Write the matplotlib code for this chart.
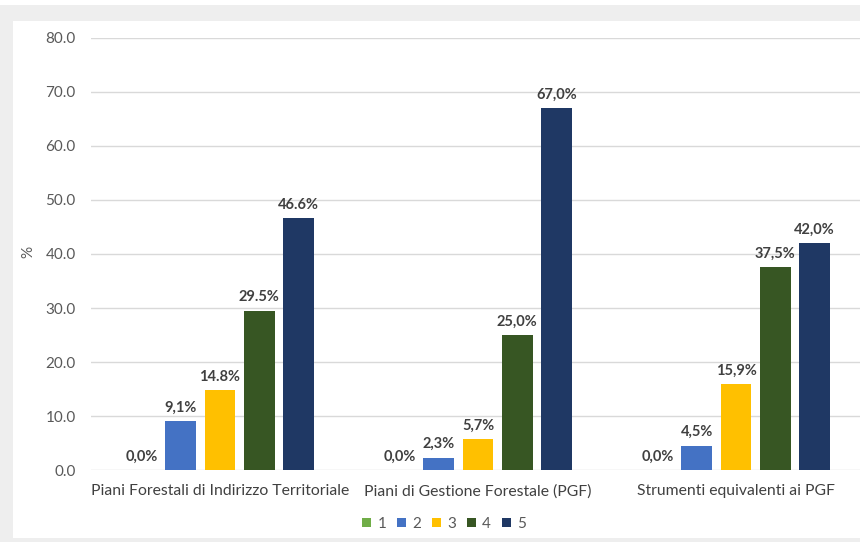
import matplotlib
matplotlib.use("Agg")
import matplotlib.pyplot as plt
from matplotlib.patches import Rectangle
import numpy as np

categories = ["Piani Forestali di Indirizzo Territoriale",
              "Piani di Gestione Forestale (PGF)",
              "Strumenti equivalenti ai PGF"]
series_names = ["1", "2", "3", "4", "5"]
values = {
    "1": [0.0, 0.0, 0.0],
    "2": [9.1, 2.3, 4.5],
    "3": [14.8, 5.7, 15.9],
    "4": [29.5, 25.0, 37.5],
    "5": [46.6, 67.0, 42.0],
}
value_labels = {
    "1": ["0,0%", "0,0%", "0,0%"],
    "2": ["9,1%", "2,3%", "4,5%"],
    "3": ["14.8%", "5,7%", "15,9%"],
    "4": ["29.5%", "25,0%", "37,5%"],
    "5": ["46.6%", "67,0%", "42,0%"],
}
y_ticks = [0, 10, 20, 30, 40, 50, 60, 70, 80]
colors = ["#70ad47", "#4472c4", "#ffc000", "#375623", "#1f3864"]

plt.rcParams["font.family"] = ["Lato", "DejaVu Sans"]
text_color = "#595959"

W, H = 860, 542
fig = plt.figure(figsize=(W / 100, H / 100), dpi=100, facecolor="white")

# grey frame around the chart area
gray = "#eeeeee"
fig.add_artist(Rectangle((0, 1 - 21 / H), 1, 16 / H, transform=fig.transFigure,
                         facecolor=gray, edgecolor="none", zorder=0))
fig.add_artist(Rectangle((0, 0), 13 / W, 1 - 5 / H, transform=fig.transFigure,
                         facecolor=gray, edgecolor="none", zorder=0))
fig.add_artist(Rectangle((0, 0), 1, 4 / H, transform=fig.transFigure,
                         facecolor=gray, edgecolor="none", zorder=0))

left, right = 91 / W, 1.0
bottom, top = 1 - 470 / H, 1 - 38 / H
ax = fig.add_axes([left, bottom, right - left, top - bottom])
ax.set_facecolor("none")

x = np.arange(len(categories))
bw = 0.12
step = 0.152
for i, name in enumerate(series_names):
    offs = (i - 2) * step
    vals = values[name]
    ax.bar(x + offs, vals, width=bw, color=colors[i], zorder=3, label=name)
    for xi, v, lab in zip(x, vals, value_labels[name]):
        ax.text(xi + offs, v + 1.2, lab, ha="center", va="bottom",
                fontsize=10.5, color="#404040", fontweight="bold", zorder=4)

ax.set_ylim(0, 80)
ax.set_xlim(-0.5, 2.5 - 5 / 258)
ax.set_yticks(y_ticks)
ax.set_yticklabels([f"{t:.1f}" for t in y_ticks], fontsize=11, color=text_color)
ax.set_xticks(x)
ax.set_xticklabels(categories, fontsize=11.3, color="#404040")
ax.tick_params(axis="both", length=0)
ax.tick_params(axis="y", pad=11)
ax.tick_params(axis="x", pad=10)
ax.grid(axis="y", color="#d9d9d9", linewidth=1.0, zorder=0)
for s in ax.spines.values():
    s.set_visible(False)

fig.text(28 / W, 1 - 252 / H, "%", rotation=90, ha="center", va="center",
         fontsize=11, color=text_color)

handles = [Rectangle((0, 0), 1, 1, facecolor=c) for c in colors]
fig.legend(handles, series_names, loc="center", bbox_to_anchor=(444 / W, 1 - 524 / H),
           ncol=5, frameon=False, fontsize=11, handlelength=0.6, handleheight=0.6,
           handletextpad=0.4, columnspacing=0.7, labelcolor=text_color)

fig.savefig("out.png", dpi=100, facecolor="white")
